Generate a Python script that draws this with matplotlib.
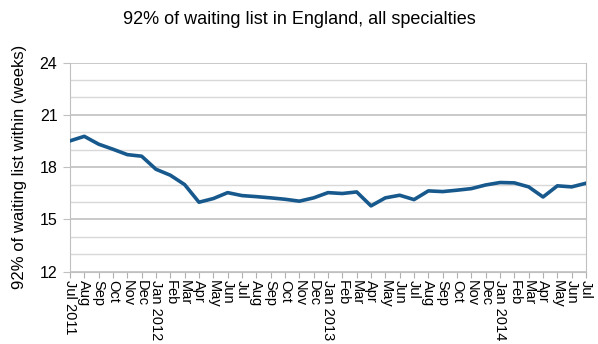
import matplotlib.pyplot as plt
from matplotlib.ticker import MultipleLocator

# monthly values, Jul 2011 - Jul 2014
months = ['Jul 2011', 'Aug', 'Sep', 'Oct', 'Nov', 'Dec',
          'Jan 2012', 'Feb', 'Mar', 'Apr', 'May', 'Jun',
          'Jul', 'Aug', 'Sep', 'Oct', 'Nov', 'Dec',
          'Jan 2013', 'Feb', 'Mar', 'Apr', 'May', 'Jun',
          'Jul', 'Aug', 'Sep', 'Oct', 'Nov', 'Dec',
          'Jan 2014', 'Feb', 'Mar', 'Apr', 'May', 'Jun', 'Jul']
weeks = [19.51, 19.77, 19.32, 19.03, 18.72, 18.63,
         17.88, 17.54, 17.00, 15.99, 16.20, 16.54,
         16.37, 16.31, 16.24, 16.16, 16.05, 16.24,
         16.54, 16.49, 16.58, 15.78, 16.24, 16.39,
         16.14, 16.64, 16.60, 16.68, 16.77, 16.98,
         17.12, 17.10, 16.87, 16.29, 16.93, 16.87, 17.08]

plt.rcParams['font.family'] = ['Liberation Sans', 'DejaVu Sans']

fig = plt.figure(figsize=(5.98, 3.44), dpi=100)
ax = fig.add_axes([0.117, 0.210, 0.863, 0.608])

x = list(range(len(months)))
ax.plot(x, weeks, color='#17598c', linewidth=2.6, solid_joinstyle='round', zorder=3)

ax.set_xlim(0, len(months) - 1)
ax.set_ylim(12, 24)
ax.yaxis.set_major_locator(MultipleLocator(3))
ax.yaxis.set_minor_locator(MultipleLocator(1))
ax.grid(which='minor', axis='y', color='#d8d8d8', linewidth=1)
ax.grid(which='major', axis='y', color='#c0c0c0', linewidth=1.2)
ax.set_axisbelow(True)

ax.set_xticks(x)
ax.set_xticklabels(months, rotation=-90, ha='center', va='top', fontsize=10.5)
ax.tick_params(axis='x', length=4, color='#b0b0b0', pad=2)
ax.tick_params(axis='y', which='major', length=5, color='#c0c0c0', labelsize=11.5, pad=4)
ax.tick_params(axis='y', which='minor', length=0)

for s in ['left', 'bottom', 'right']:
    ax.spines[s].set_color('#c0c0c0')
ax.spines['top'].set_visible(False)

ax.set_ylabel('92% of waiting list within (weeks)', fontsize=12, labelpad=9)
fig.suptitle('92% of waiting list in England, all specialties', fontsize=13, y=0.968)

fig.savefig('out.png', dpi=100)
